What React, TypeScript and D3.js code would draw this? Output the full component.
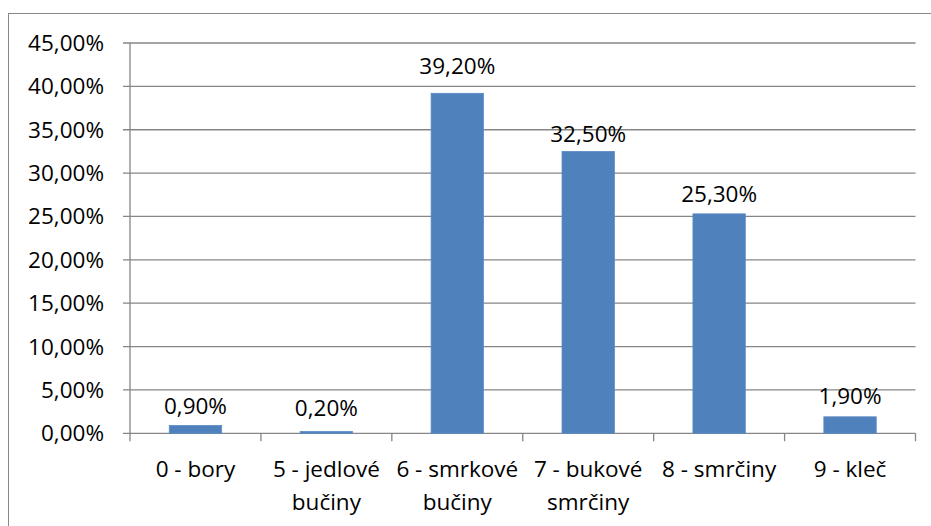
import React from "react";
import * as d3 from "d3";

const categories: string[][] = [
  ["0 - bory"],
  ["5 - jedlové", "bučiny"],
  ["6 - smrkové", "bučiny"],
  ["7 - bukové", "smrčiny"],
  ["8 - smrčiny"],
  ["9 - kleč"],
];
const values: number[] = [0.9, 0.2, 39.2, 32.5, 25.3, 1.9];
const yTicks: number[] = [0, 5, 10, 15, 20, 25, 30, 35, 40, 45];
// gap (px) between each bar top and its data label, as placed in the original
const labelGap: number[] = [11, 16, 19, 9, 12, 12.5];

const fmt = (v: number) => v.toFixed(2).replace(".", ",") + "%";

export default function App() {
  const W = 931, H = 526;
  const left = 130, right = 915.5, top = 43, bottom = 433.3;
  const x = d3.scaleBand<number>().domain(d3.range(categories.length)).range([left, right]).paddingInner(0).paddingOuter(0);
  const y = d3.scaleLinear().domain([0, 45]).range([bottom, top]);
  const bw = x.bandwidth() * 0.4;
  const font = "'Open Sans', sans-serif";
  const fs = 22.5;
  const grid = "#868686";
  return (
    <svg width={W} height={H} style={{ position: "absolute", left: 0, top: 0 }} fontFamily={font}>
      <rect x={0} y={0} width={W} height={H} fill="#fff" />
      <rect x={8.5} y={13.5} width={940} height={540} fill="none" stroke="#888" strokeWidth={1} />
      {yTicks.map((t) => (
        <g key={t}>
          <line x1={left - 7} x2={right} y1={y(t)} y2={y(t)} stroke={grid} strokeWidth={1.3} />
          <text x={104} y={y(t) + 8} textAnchor="end" fontSize={fs} fill="#000">{fmt(t)}</text>
        </g>
      ))}
      <line x1={left} x2={left} y1={top} y2={bottom} stroke={grid} strokeWidth={1.3} />
      {d3.range(categories.length + 1).map((i) => {
        const xx = i < categories.length ? (x(i) as number) : right;
        return <line key={i} x1={xx} x2={xx} y1={bottom} y2={bottom + 8} stroke={grid} strokeWidth={1.3} />;
      })}
      {values.map((v, i) => {
        const cx = (x(i) as number) + x.bandwidth() / 2;
        return (
          <g key={i}>
            <rect x={cx - bw / 2} y={y(v)} width={bw} height={bottom - y(v)} fill="#4F81BD" stroke="#5B8AC4" strokeWidth={0.8} />
            <text x={cx} y={y(v) - labelGap[i]} textAnchor="middle" fontSize={fs} fill="#000">{fmt(v)}</text>
            {categories[i].map((line, j) => (
              <text key={j} x={cx} y={477 + j * 33} textAnchor="middle" fontSize={fs} fill="#000">{line}</text>
            ))}
          </g>
        );
      })}
    </svg>
  );
}
